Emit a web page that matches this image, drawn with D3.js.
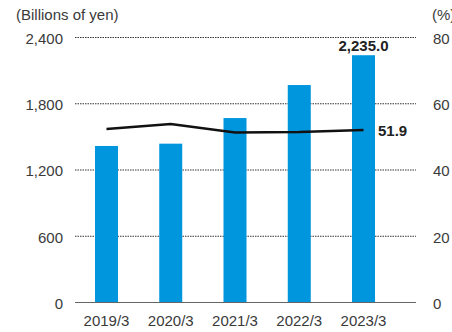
<!DOCTYPE html>
<html><head><meta charset="utf-8">
<script src="https://cdn.jsdelivr.net/npm/d3@7"></script>
<style>body{margin:0;background:#fff;overflow:hidden}svg{display:block;font-family:"Liberation Sans",Arial,sans-serif}</style>
</head><body><svg id="c" width="452" height="332"></svg>
<script>
const categories = ["2019/3","2020/3","2021/3","2022/3","2023/3"];
const revenue = [1413, 1434, 1666, 1965, 2235.0];
const ratio = [52.2, 53.7, 51.2, 51.3, 51.9];
const leftTicks = [0, 600, 1200, 1800, 2400];
const rightTicks = [0, 20, 40, 60, 80];

const svg = d3.select("#c");
const L = 75, R = 416, T = 37, B = 302;
const FS = 15, TXT = "#3a3a3a";
const x = d3.scaleBand().domain(categories).range([75, 395]).paddingInner(0.642).paddingOuter(0.311);
const y = d3.scaleLinear().domain([0, 2400]).range([B, T]);
const y2 = d3.scaleLinear().domain([0, 80]).range([B, T]);

// gridlines
svg.append("g").selectAll("line").data(leftTicks.filter(d => d > 0)).join("line")
  .attr("x1", L).attr("x2", R).attr("y1", d => y(d) + 0.5).attr("y2", d => y(d) + 0.5)
  .attr("stroke", "#333").attr("stroke-width", 1).attr("stroke-dasharray", "1.5,1");

// bars
svg.append("g").selectAll("rect").data(revenue).join("rect")
  .attr("x", (d, i) => x(categories[i])).attr("width", x.bandwidth())
  .attr("y", d => y(d)).attr("height", d => B - y(d)).attr("fill", "#0096de");

// baseline
svg.append("line").attr("x1", L).attr("x2", R).attr("y1", B + 0.5).attr("y2", B + 0.5)
  .attr("stroke", "#666").attr("stroke-width", 1);

// line
const line = d3.line().x((d, i) => x(categories[i]) + x.bandwidth() / 2).y(d => y2(d));
svg.append("path").datum(ratio).attr("d", line).attr("fill", "none")
  .attr("stroke", "#111").attr("stroke-width", 2.5);

function styleAxis(g) {
  g.select(".domain").remove();
  g.selectAll("text").attr("fill", TXT).attr("font-size", FS)
    .attr("font-family", "Liberation Sans, Arial, sans-serif");
}

// left axis
const gl = svg.append("g").attr("transform", `translate(63,0)`)
  .call(d3.axisLeft(y).tickValues(leftTicks).tickFormat(d3.format(",")).tickSize(0).tickPadding(0));
styleAxis(gl);
gl.selectAll("text").attr("dy", "0.43em");

// right axis
const gr = svg.append("g").attr("transform", `translate(433,0)`)
  .call(d3.axisRight(y2).tickValues(rightTicks).tickSize(0).tickPadding(0));
styleAxis(gr);
gr.selectAll("text").attr("dy", "0.43em");

// x axis
const gx = svg.append("g").attr("transform", `translate(0,${B})`)
  .call(d3.axisBottom(x).tickSize(0).tickPadding(0));
styleAxis(gx);
gx.selectAll("text").attr("dy", null).attr("y", 24);

// titles
svg.append("text").attr("x", 16).attr("y", 20).attr("fill", TXT).attr("font-size", FS).text("(Billions of yen)");
svg.append("text").attr("x", 432).attr("y", 20).attr("fill", TXT).attr("font-size", FS).text("(%)");

// value labels
const last = categories.length - 1;
svg.append("text").attr("x", x(categories[last]) + x.bandwidth() / 2).attr("y", y(revenue[last]) - 4)
  .attr("text-anchor", "middle").attr("font-weight", "bold").attr("font-size", FS).attr("fill", "#222")
  .text(d3.format(",.1f")(revenue[last]));
svg.append("text").attr("x", x(categories[last]) + x.bandwidth() + 3).attr("y", y2(ratio[last]) + 5.5)
  .attr("font-weight", "bold").attr("font-size", FS).attr("fill", "#222")
  .text(ratio[last].toFixed(1));
</script></body></html>
